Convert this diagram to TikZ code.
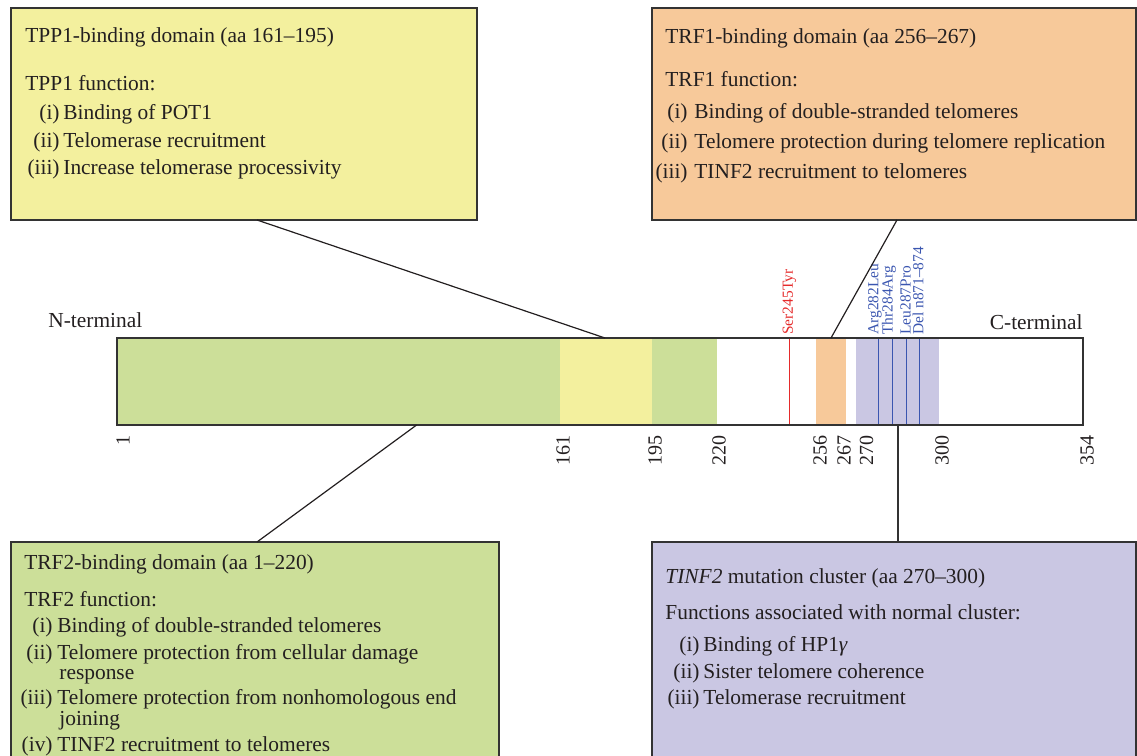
\documentclass[tikz,border=0pt]{standalone}
\usepackage{fontspec}
\setmainfont{Liberation Serif}
\definecolor{trfgreen}{HTML}{CCDF99}
\definecolor{tppyellow}{HTML}{F3F09E}
\definecolor{trforange}{HTML}{F7C99A}
\definecolor{clpurple}{HTML}{CAC7E3}
\definecolor{mutred}{HTML}{E52B2B}
\definecolor{mutblue}{HTML}{3B56B0}
\definecolor{ink}{HTML}{231F20}
\definecolor{edgec}{HTML}{333333}
\begin{document}
\begin{tikzpicture}[x=0.5pt,y=-0.5pt,
  txt/.style={font=\fontsize{10.7}{13}\selectfont, inner sep=0pt, text=ink},
  lbl/.style={txt, anchor=base east},
  itm/.style={txt, anchor=base west},
  ticklbl/.style={font=\fontsize{10}{12}\selectfont, inner sep=0pt, text=ink, rotate=90, anchor=east},
  mutlbl/.style={font=\fontsize{7.7}{9}\selectfont, inner sep=0pt, rotate=90, anchor=west},
  infobox/.style={draw=edgec, line width=0.7pt},
  link/.style={draw=ink, line width=0.6pt},
  mutline/.style={line width=0.7pt},
]
\useasboundingbox (0,0) rectangle (1137,756);
\clip (0,0) rectangle (1137,756);

% ---- info boxes ----
\draw[infobox, fill=tppyellow] (11,8) rectangle (477,220);
\draw[infobox, fill=trforange] (652,8) rectangle (1136,220);
\draw[infobox, fill=trfgreen] (11,542) rectangle (499,800);
\draw[infobox, fill=clpurple] (652,542) rectangle (1136,800);

% ---- protein bar ----
\fill[trfgreen] (117,338) rectangle (560,425);
\fill[tppyellow] (560,338) rectangle (652,425);
\fill[trfgreen] (652,338) rectangle (717,425);
\fill[trforange] (816,338) rectangle (846,425);
\fill[clpurple] (856,338) rectangle (939,425);
\coordinate (m245t) at (789.7,338); \coordinate (m245b) at (789.7,425);
\coordinate (m282t) at (878.3,338); \coordinate (m282b) at (878.3,425);
\coordinate (m284t) at (892.3,338); \coordinate (m284b) at (892.3,425);
\coordinate (m287t) at (906.7,338); \coordinate (m287b) at (906.7,425);
\coordinate (mdelt) at (919.3,338); \coordinate (mdelb) at (919.3,425);
\draw[mutline, draw=mutred] (m245t) -- (m245b);
\draw[mutline, draw=mutblue] (m282t) -- (m282b);
\draw[mutline, draw=mutblue] (m284t) -- (m284b);
\draw[mutline, draw=mutblue] (m287t) -- (m287b);
\draw[mutline, draw=mutblue] (mdelt) -- (mdelb);
\draw[edgec, line width=0.8pt] (117,338) rectangle (1083,425);

% ---- terminal labels ----
\node[txt, anchor=base west] (nterm) at (48,327) {N-terminal};
\node[txt, anchor=base east] (cterm) at (1083,329) {C-terminal};

% ---- mutation labels ----
\node[mutlbl, text=mutred] (s245) at (789.5,335) {Ser245Tyr};
\node[mutlbl, text=mutblue] (a282) at (875,335) {Arg282Leu};
\node[mutlbl, text=mutblue] (t284) at (889,335) {Thr284Arg};
\node[mutlbl, text=mutblue] (l287) at (905.5,335) {Leu287Pro};
\node[mutlbl, text=mutblue] (d871) at (918,335) {Del n871–874};

% ---- tick labels ----
\node[ticklbl] (k1) at (123,435) {1};
\node[ticklbl] (k161) at (563,435) {161};
\node[ticklbl] (k195) at (655,435) {195};
\node[ticklbl] (k220) at (719,435) {220};
\node[ticklbl] (k256) at (820,435) {256};
\node[ticklbl] (k267) at (844,435) {267};
\node[ticklbl] (k270) at (866.5,435) {270};
\node[ticklbl] (k300) at (942,435) {300};
\node[ticklbl] (k354) at (1087,435) {354};

% ---- connectors ----
\coordinate (tppfoot) at (257,220); \coordinate (tppdom) at (605,338);
\coordinate (trf1foot) at (897,220); \coordinate (trf1dom) at (831,338);
\coordinate (trf2dom) at (416.6,425); \coordinate (trf2head) at (257,542);
\coordinate (clusdom) at (898,425); \coordinate (clushead) at (898,542);
\draw[link] (tppfoot) -- (tppdom);
\draw[link] (trf1foot) -- (trf1dom);
\draw[link] (trf2dom) -- (trf2head);
\draw[link, draw=edgec, line width=0.8pt] (clusdom) -- (clushead);

% ---- TPP1 box text ----
\node[itm] (tpptitle) at (25,42) {TPP1-binding domain (aa 161–195)};
\node[itm] (tppfun) at (25,90) {TPP1 function:};
\node[lbl] (tppl1) at (60,119) {(i)};
\node[itm] (tppi1) at (63,119) {Binding of POT1};
\node[lbl] (tppl2) at (60,147) {(ii)};
\node[itm] (tppi2) at (63,147) {Telomerase recruitment};
\node[lbl] (tppl3) at (60,174) {(iii)};
\node[itm] (tppi3) at (63,174) {Increase telomerase processivity};

% ---- TRF1 box text ----
\node[itm] (trf1title) at (665,43) {TRF1-binding domain (aa 256–267)};
\node[itm] (trf1fun) at (665,86) {TRF1 function:};
\node[lbl] (trf1l1) at (688,118) {(i)};
\node[itm] (trf1i1) at (694,118) {Binding of double-stranded telomeres};
\node[lbl] (trf1l2) at (688,148) {(ii)};
\node[itm] (trf1i2) at (694,148) {Telomere protection during telomere replication};
\node[lbl] (trf1l3) at (688,178) {(iii)};
\node[itm] (trf1i3) at (694,178) {TINF2 recruitment to telomeres};

% ---- TRF2 box text ----
\node[itm] (trf2title) at (24,569) {TRF2-binding domain (aa 1–220)};
\node[itm] (trf2fun) at (24,606) {TRF2 function:};
\node[lbl] (trf2l1) at (53,632) {(i)};
\node[itm] (trf2i1) at (57,632) {Binding of double-stranded telomeres};
\node[lbl] (trf2l2) at (53,659) {(ii)};
\node[itm] (trf2i2) at (57,659) {Telomere protection from cellular damage};
\node[itm] (trf2i2b) at (59,679) {response};
\node[lbl] (trf2l3) at (53,704) {(iii)};
\node[itm] (trf2i3) at (57,704) {Telomere protection from nonhomologous end};
\node[itm] (trf2i3b) at (59,725) {joining};
\node[lbl] (trf2l4) at (53,751) {(iv)};
\node[itm] (trf2i4) at (57,751) {TINF2 recruitment to telomeres};

% ---- cluster box text ----
\node[itm] (clustitle) at (665,583) {\textit{TINF2} mutation cluster (aa 270–300)};
\node[itm] (clusfun) at (665,619) {Functions associated with normal cluster:};
\node[lbl] (clusl1) at (700,651) {(i)};
\node[itm] (clusi1) at (703,651) {Binding of HP1\textit{γ}};
\node[lbl] (clusl2) at (700,678) {(ii)};
\node[itm] (clusi2) at (703,678) {Sister telomere coherence};
\node[lbl] (clusl3) at (700,704) {(iii)};
\node[itm] (clusi3) at (703,704) {Telomerase recruitment};
\end{tikzpicture}
\end{document}
